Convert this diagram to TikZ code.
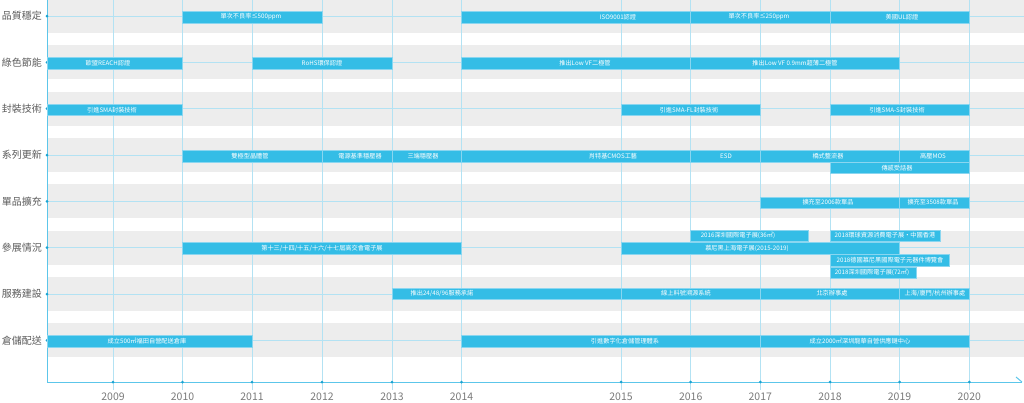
\documentclass[tikz,border=0pt]{standalone}
\usepackage{fontspec}
\setmainfont{Noto Sans CJK TC}
\usetikzlibrary{positioning, calc}
\definecolor{tlBar}{HTML}{34BDE6}
\definecolor{tlEdge}{HTML}{8AD6F0}
\definecolor{tlGrid}{HTML}{B3E2F3}
\definecolor{tlAxis}{HTML}{5CC6EA}
\definecolor{tlDot}{HTML}{1AA3D1}
\definecolor{tlBand}{HTML}{EDEDED}
\definecolor{tlLabel}{HTML}{5A5A5A}
\definecolor{tlYear}{HTML}{7A7A7A}
\tikzset{
  evbar/.style={draw=tlEdge, line width=0.5pt, fill=tlBar, minimum height=11.5pt,
    inner sep=0pt, outer sep=0pt, anchor=west},
  evtext/.style={text=white, font=\fontsize{6.2}{7}\selectfont, inner sep=0pt},
  rowlabel/.style={anchor=east, text=tlLabel, font=\fontsize{10}{12}\selectfont, inner sep=0pt},
  yearlabel/.style={text=tlYear, font=\fontsize{10.5}{12}\selectfont, inner sep=0pt},
  gridline/.style={tlGrid, line width=0.8pt},
  axisline/.style={tlAxis, line width=1pt},
  band/.style={fill=tlBand, draw=none},
  tick/.style={fill=tlDot, circle, minimum size=3pt, inner sep=0pt}
}
% name, from x, to x, y, text x, text
\newcommand{\tlevent}[6]{%
  \node[evbar, minimum width={(#3-#2)*1pt}] (#1) at (#2,#4) {};
  \node[evtext] (#1-t) at (#5,#4) {#6};}

\begin{document}
\begin{tikzpicture}[x=1pt, y=-1pt]
  \useasboundingbox (0,0) rectangle (1024,402);
  % bands
  \foreach \y in {16,62.3,108.7,155,201.3,247.7,294,340.3}
    \fill[band] (47,\y-17) rectangle (1024,\y+17);
  % year grid
  \foreach \yr/\x in {2009/113,2010/182.5,2011/252,2012/322,2013/392,2014/461.5,
      2015/621,2016/690.7,2017/760.3,2018/830,2019/899.5,2020/969.3}{
    \draw[gridline] (\x,0) -- (\x,390);
  }
  % rows
  \foreach \y/\lab [count=\i] in {16/品質穩定,62.3/綠色節能,108.7/封裝技術,155/系列更新,
      201.3/單品擴充,247.7/參展情況,294/服務建設,340.3/倉儲配送}{
    \draw[gridline] (47,\y) -- (1024,\y);
    \node[rowlabel] (row\i) at (42,\y) {\lab};
  }
  % axes
  \coordinate (axend) at (1022,382);
  \draw[axisline] (47,0) -- (47,382) -- (axend);
  \draw[axisline] (axend) -- ++(-6,-5);
  \foreach \y [count=\i] in {16,62.3,108.7,155,201.3,247.7,294,340.3}
    \node[tick] (rdot\i) at (47,\y) {};
  \foreach \yr/\x in {2009/113,2010/182.5,2011/252,2012/322,2013/392,2014/461.5,
      2015/621,2016/690.7,2017/760.3,2018/830,2019/899.5,2020/969.3}{
    \node[tick] (ydot\yr) at (\x,382) {};
    \node[yearlabel] (year\yr) at (\x,397) {\yr};
  }

  % 品質穩定
  \tlevent{q1}{182.5}{322}{17}{251}{單次不良率≤500ppm}
  \tlevent{q2}{461.5}{690.7}{17}{618}{ISO9001認證}
  \tlevent{q3}{690.7}{830}{17}{759}{單次不良率≤250ppm}
  \tlevent{q4}{830}{969.3}{17}{902}{美國UL認證}
  % 綠色節能
  \tlevent{g1}{47}{182.5}{63.3}{108}{歐盟REACH認證}
  \tlevent{g2}{252}{392}{63.3}{322}{RoHS環保認證}
  \tlevent{g3}{461.5}{690.7}{63.3}{585}{推出Low VF二極管}
  \tlevent{g4}{690.7}{899.5}{63.3}{795}{推出Low VF 0.9mm超薄二極管}
  % 封裝技術
  \tlevent{p1}{47}{182.5}{109.7}{112}{引進SMA封裝技術}
  \tlevent{p2}{621}{760.3}{109.7}{689}{引進SMA-FL封裝技術}
  \tlevent{p3}{830}{969.3}{109.7}{897}{引進SMA-S封裝技術}
  % 系列更新
  \tlevent{s1}{182.5}{322}{156}{250}{雙極型晶體管}
  \tlevent{s2}{322}{392}{156}{360}{電源基準穩壓器}
  \tlevent{s3}{392}{461.5}{156}{423}{三端穩壓器}
  \tlevent{s4}{461.5}{690.7}{156}{613}{肖特基CMOS工藝}
  \tlevent{s5}{690.7}{760.3}{156}{726}{ESD}
  \tlevent{s6}{760.3}{899.5}{156}{828}{橋式整流器}
  \tlevent{s7}{899.5}{969.3}{156}{933}{高壓MOS}
  \tlevent{s8}{830}{969.3}{167.8}{897}{傳感受話器}
  % 單品擴充
  \tlevent{u1}{760.3}{899.5}{202.5}{828}{擴充至2006款單品}
  \tlevent{u2}{899.5}{969.3}{202.5}{933}{擴充至3508款單品}
  % 參展情況
  \tlevent{e1}{182.5}{461.5}{248.3}{322}{第十三/十四/十五/十六/十七屆高交會電子展}
  \tlevent{e3}{690.7}{808}{235.6}{738}{2016深圳國際電子展(36㎡)}
  \tlevent{e4}{830}{940}{235.6}{885}{2018環球資源消費電子展·中國香港}
  \tlevent{e2}{621}{899.5}{248.3}{747}{慕尼黑上海電子展(2015-2019)}
  \tlevent{e5}{830}{949}{260.4}{890}{2018德國慕尼黑國際電子元器件博覽會}
  \tlevent{e6}{830}{916}{272.5}{872}{2018深圳國際電子展(72㎡)}
  % 服務建設
  \tlevent{v1}{392}{621}{293.5}{442}{推出24/48/96服務承諾}
  \tlevent{v2}{621}{760.3}{293.5}{686}{線上料號溯源系統}
  \tlevent{v3}{760.3}{899.5}{293.5}{832}{北京辦事處}
  \tlevent{v4}{899.5}{969.3}{293.5}{935}{上海/廈門/杭州辦事處}
  % 倉儲配送
  \tlevent{w1}{47}{252}{341.3}{147}{成立500㎡福田自營配送倉庫}
  \tlevent{w2}{461.5}{760.3}{341.3}{625}{引進數字化倉儲管理體系}
  \tlevent{w3}{760.3}{969.3}{341.3}{860}{成立2000㎡深圳龍華自營供應鏈中心}
\end{tikzpicture}
\end{document}
